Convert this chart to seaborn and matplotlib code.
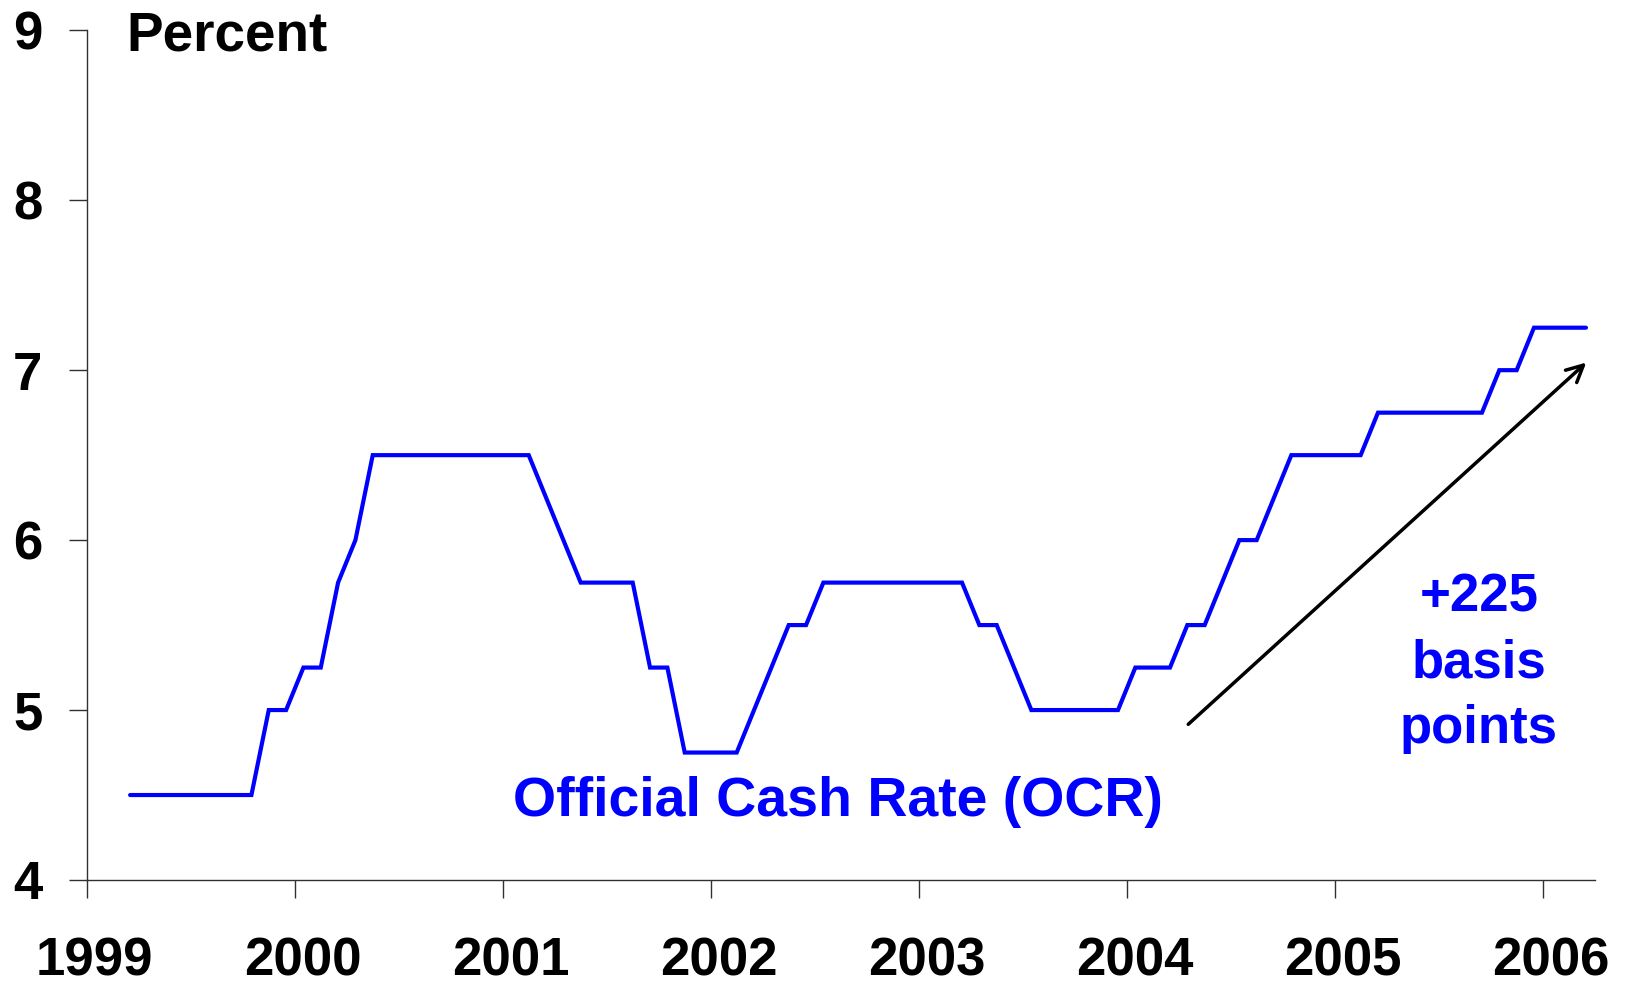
import numpy as np
import pandas as pd
import matplotlib
matplotlib.use("Agg")
import matplotlib.pyplot as plt
import matplotlib.transforms as mtransforms
import seaborn as sns

# monthly OCR, March 1999 .. March 2006
start_month = "1999-03"
ocr_1999 = [4.5, 4.5, 4.5, 4.5, 4.5, 4.5, 4.5, 4.5, 5.0, 5.0]
ocr_2000 = [5.25, 5.25, 5.75, 6.0, 6.5, 6.5, 6.5, 6.5, 6.5, 6.5, 6.5, 6.5]
ocr_2001 = [6.5, 6.5, 6.25, 6.0, 5.75, 5.75, 5.75, 5.75, 5.25, 5.25, 4.75, 4.75]
ocr_2002 = [4.75, 4.75, 5.0, 5.25, 5.5, 5.5, 5.75, 5.75, 5.75, 5.75, 5.75, 5.75]
ocr_2003 = [5.75, 5.75, 5.75, 5.5, 5.5, 5.25, 5.0, 5.0, 5.0, 5.0, 5.0, 5.0]
ocr_2004 = [5.25, 5.25, 5.25, 5.5, 5.5, 5.75, 6.0, 6.0, 6.25, 6.5, 6.5, 6.5]
ocr_2005 = [6.5, 6.5, 6.75, 6.75, 6.75, 6.75, 6.75, 6.75, 6.75, 7.0, 7.0, 7.25]
ocr_2006 = [7.25, 7.25, 7.25]

year_ticks = [1999, 2000, 2001, 2002, 2003, 2004, 2005, 2006]
pct_ticks = [4, 5, 6, 7, 8, 9]

ocr = ocr_1999 + ocr_2000 + ocr_2001 + ocr_2002 + ocr_2003 + ocr_2004 + ocr_2005 + ocr_2006
months = pd.period_range(start=start_month, periods=len(ocr), freq="M")
# plot each month at its middle, as decimal years
xpos = months.year + (months.month - 0.5) / 12
df = pd.DataFrame({"year": xpos, "ocr": ocr})

sns.set_style("ticks")
plt.rcParams["font.family"] = ["Liberation Sans", "DejaVu Sans"]
plt.rcParams["font.weight"] = "bold"

fig = plt.figure(figsize=(16.28, 9.84), dpi=100)
ax = fig.add_axes([0.0533, 0.1057, 0.9262, 0.8635])

sns.lineplot(data=df, x="year", y="ocr", ax=ax, color="#0000FF", linewidth=3,
             solid_capstyle="round", solid_joinstyle="miter")

ax.set_xlim(1999, 2006.25)
ax.set_ylim(4, 9)
ax.set_xticks(year_ticks)
ax.set_xticklabels([str(y) for y in year_ticks])
ax.set_yticks(pct_ticks)
ax.set_yticklabels([str(p) for p in pct_ticks])
ax.set_xlabel("")
ax.set_ylabel("")

for side in ["top", "right"]:
    ax.spines[side].set_visible(False)
for side in ["left", "bottom"]:
    ax.spines[side].set_color("#303030")
    ax.spines[side].set_linewidth(1)

ax.tick_params(axis="x", bottom=True, direction="out", length=13, width=1,
               color="#303030", pad=27.5, labelsize=38, labelcolor="black")
ax.tick_params(axis="y", left=True, direction="out", length=13, width=1,
               color="#303030", pad=19, labelsize=38, labelcolor="black")
for lab in ax.get_xticklabels() + ax.get_yticklabels():
    lab.set_fontweight("bold")
# year labels sit slightly right of their ticks
shift = mtransforms.ScaledTranslation(8 / 100, 0, fig.dpi_scale_trans)
for lab in ax.get_xticklabels():
    lab.set_transform(lab.get_transform() + shift)

ax.text(1999.189, 8.882, "Percent", fontsize=39.5, fontweight="bold",
        color="black", va="baseline", ha="left")
ax.text(2002.612, 4.376, "Official Cash Rate (OCR)", fontsize=40,
        fontweight="bold", color="#0000FF", ha="center", va="baseline")
ax.text(2005.694, 4.806, "+225\nbasis\npoints", fontsize=38, fontweight="bold",
        color="#0000FF", ha="center", va="baseline", linespacing=1.41)

ax.annotate("", xy=(2006.21, 7.045), xytext=(2004.296, 4.916),
            arrowprops=dict(arrowstyle="->", color="black", lw=2.5,
                            mutation_scale=30, shrinkA=0, shrinkB=0))

fig.savefig("out.png", dpi=100, facecolor="white")
